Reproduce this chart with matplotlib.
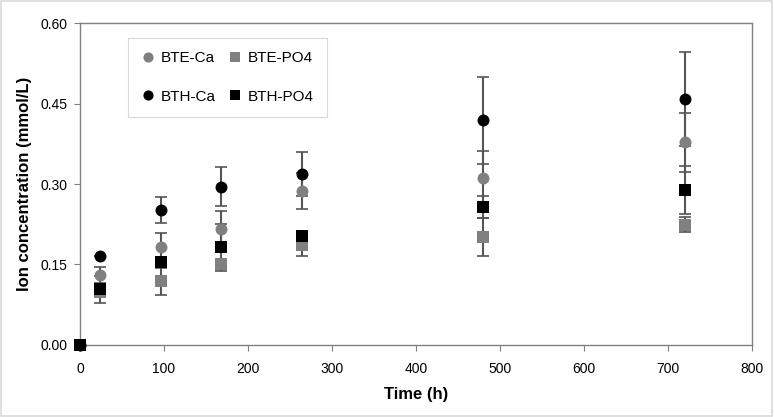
import numpy as np
import matplotlib.pyplot as plt
from matplotlib.patches import Rectangle

plt.rcParams['font.family'] = ['Liberation Sans', 'DejaVu Sans']

# 数据
time_h = [0, 24, 96, 168, 264, 480, 720]
bte_ca = [0, 0.130, 0.183, 0.216, 0.287, 0.312, 0.378]
bte_ca_err = [0, 0.015, 0.026, 0.034, 0.034, 0.049, 0.055]
bte_po4 = [0, 0.099, 0.120, 0.151, 0.186, 0.201, 0.224]
bte_po4_err = [0, 0.010, 0.027, 0.010, 0.021, 0.035, 0.014]
bth_ca = [0, 0.166, 0.251, 0.295, 0.319, 0.419, 0.458]
bth_ca_err = [0, 0.0, 0.024, 0.036, 0.041, 0.081, 0.088]
bth_po4 = [0, 0.104, 0.154, 0.182, 0.203, 0.257, 0.289]
bth_po4_err = [0, 0.025, 0.010, 0.044, 0.005, 0.020, 0.044]

series = [
    ('BTE-Ca', bte_ca, bte_ca_err, 'o', '#808080'),
    ('BTH-Ca', bth_ca, bth_ca_err, 'o', 'black'),
    ('BTE-PO4', bte_po4, bte_po4_err, 's', '#808080'),
    ('BTH-PO4', bth_po4, bth_po4_err, 's', 'black'),
]

fig = plt.figure(figsize=(7.74, 4.17), dpi=100)
ax = fig.add_axes([0.1034, 0.1727, 0.8682, 0.7721])

# 误差棒
for name, y, e, m, c in series:
    ax.errorbar(time_h, y, yerr=e, fmt='none', ecolor='#555555', elinewidth=1.5,
                capsize=4, capthick=1.2, clip_on=False, zorder=2)

# 标记
handles = {}
for name, y, e, m, c in [series[2], series[0], series[3], series[1]]:
    ms = 8.6 if m == 'o' else 8.0
    h, = ax.plot(time_h, y, linestyle='none', marker=m, color=c, markersize=ms,
                 markeredgewidth=0, label=name, clip_on=False, zorder=3)
    handles[name] = h

names = ['BTE-Ca', 'BTH-Ca', 'BTE-PO4', 'BTH-PO4']
leg = ax.legend([handles[n] for n in names], names,
                ncol=2, loc='upper left', bbox_to_anchor=(0.071, 0.953),
                borderaxespad=0, fontsize=11, frameon=True, fancybox=False,
                labelspacing=1.6, columnspacing=0.8, handletextpad=0.3,
                handlelength=1.0, borderpad=0.85, markerscale=0.85)
leg.get_frame().set_edgecolor('#d0d0d0')
leg.get_frame().set_linewidth(0.8)

ax.set_xlim(0, 800)
ax.set_ylim(0, 0.6)
ax.set_xticks(np.arange(0, 801, 100))
ax.set_yticks([0, 0.15, 0.30, 0.45, 0.60])
ax.set_yticklabels(['0.00', '0.15', '0.30', '0.45', '0.60'])
ax.tick_params(direction='out', length=4, width=0.8, color='#808080',
               labelsize=10, pad=5)
ax.tick_params(axis='x', pad=8)

for s in ax.spines.values():
    s.set_color('#808080')
    s.set_linewidth(1.0)

ax.set_xlabel('Time (h)', fontsize=12, fontweight='bold', labelpad=8)
ax.set_ylabel('Ion concentration (mmol/L)', fontsize=12, fontweight='bold', labelpad=6)

# 外框
fig.patches.append(Rectangle((0.001, 0.003), 0.996, 0.995, transform=fig.transFigure,
                             fill=False, edgecolor='#d9d9d9', linewidth=1.2))

fig.savefig('out.png', dpi=100)
